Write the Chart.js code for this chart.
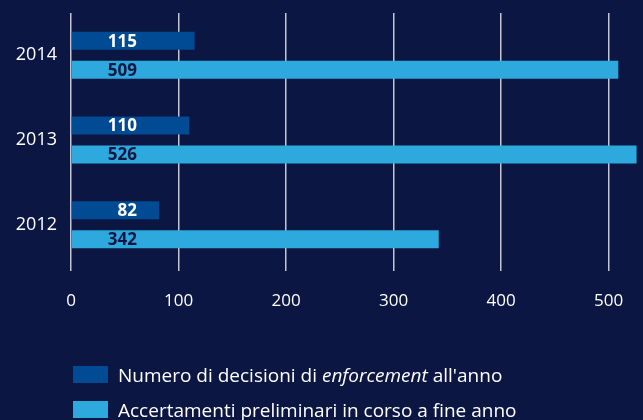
<!DOCTYPE html>
<html><head><meta charset="utf-8">
<script src="https://cdn.jsdelivr.net/npm/chart.js@4/dist/chart.umd.min.js"></script>
<style>
html,body{margin:0;padding:0;background:#0b1642;}
#wrap{position:relative;width:643px;height:420px;overflow:hidden;}
#legend{position:absolute;left:73px;top:357px;font-family:"Open Sans",sans-serif;font-size:19px;color:#fff;white-space:nowrap;}
.row{display:flex;align-items:center;height:35px;}
.box{width:35px;height:17px;margin-right:10px;flex:none;}
</style></head><body>
<div id="wrap"><canvas id="c" width="643" height="420"></canvas>
<div id="legend">
<div class="row"><span class="box" style="background:#004b93"></span><span>Numero di decisioni di <i>enforcement</i> all'anno</span></div>
<div class="row"><span class="box" style="background:#2ea9de"></span><span>Accertamenti preliminari in corso a fine anno</span></div>
</div></div>
<script>
const categories = ['2014','2013','2012'];
const decisioni = [115,110,82];
const accertamenti = [509,526,342];
const xTicks = [0,100,200,300,400,500];
const seriesNames = ["Numero di decisioni di enforcement all'anno","Accertamenti preliminari in corso a fine anno"];

const barLabels = {
  id:'barLabels',
  afterDatasetsDraw(chart){
    const ctx = chart.ctx;
    const x0 = chart.scales.x.getPixelForValue(0);
    ctx.save();
    ctx.font = 'bold 17px "Open Sans", sans-serif';
    ctx.textAlign = 'right';
    ctx.textBaseline = 'middle';
    chart.data.datasets.forEach((ds,i)=>{
      const meta = chart.getDatasetMeta(i);
      meta.data.forEach((bar,j)=>{
        ctx.fillStyle = i===0 ? '#ffffff' : '#0b1642';
        ctx.fillText(String(ds.data[j]), x0+66, bar.y+1);
      });
    });
    ctx.restore();
  }
};

new Chart(document.getElementById('c'),{
  type:'bar',
  data:{labels:categories,datasets:[
    {label:seriesNames[0],data:decisioni,backgroundColor:'#004b93',barPercentage:0.62,categoryPercentage:0.686},
    {label:seriesNames[1],data:accertamenti,backgroundColor:'#2ea9de',barPercentage:0.62,categoryPercentage:0.686}
  ]},
  options:{
    indexAxis:'y',responsive:false,animation:false,
    layout:{padding:{top:13,right:0,left:0,bottom:0}},
    plugins:{legend:{display:false},tooltip:{enabled:false}},
    scales:{
      x:{min:0,max:532,
        afterFit(s){s.height=153;s.paddingLeft=0;s.paddingRight=0;},
        afterBuildTicks(s){s.ticks = xTicks.map(v=>({value:v}));},
        grid:{color:'#c3c6d2',lineWidth:1.5,tickLength:4,drawOnChartArea:true},
        border:{display:false},
        ticks:{color:'#ffffff',padding:20,font:{family:'"Open Sans", sans-serif',size:17}}
      },
      y:{
        afterFit(s){s.width=71;s.paddingTop=0;s.paddingBottom=0;},
        grid:{display:false,drawTicks:false},border:{display:false},
        ticks:{color:'#ffffff',padding:14,font:{family:'"Open Sans", sans-serif',size:18}}
      }
    }
  },
  plugins:[barLabels]
});
</script></body></html>
